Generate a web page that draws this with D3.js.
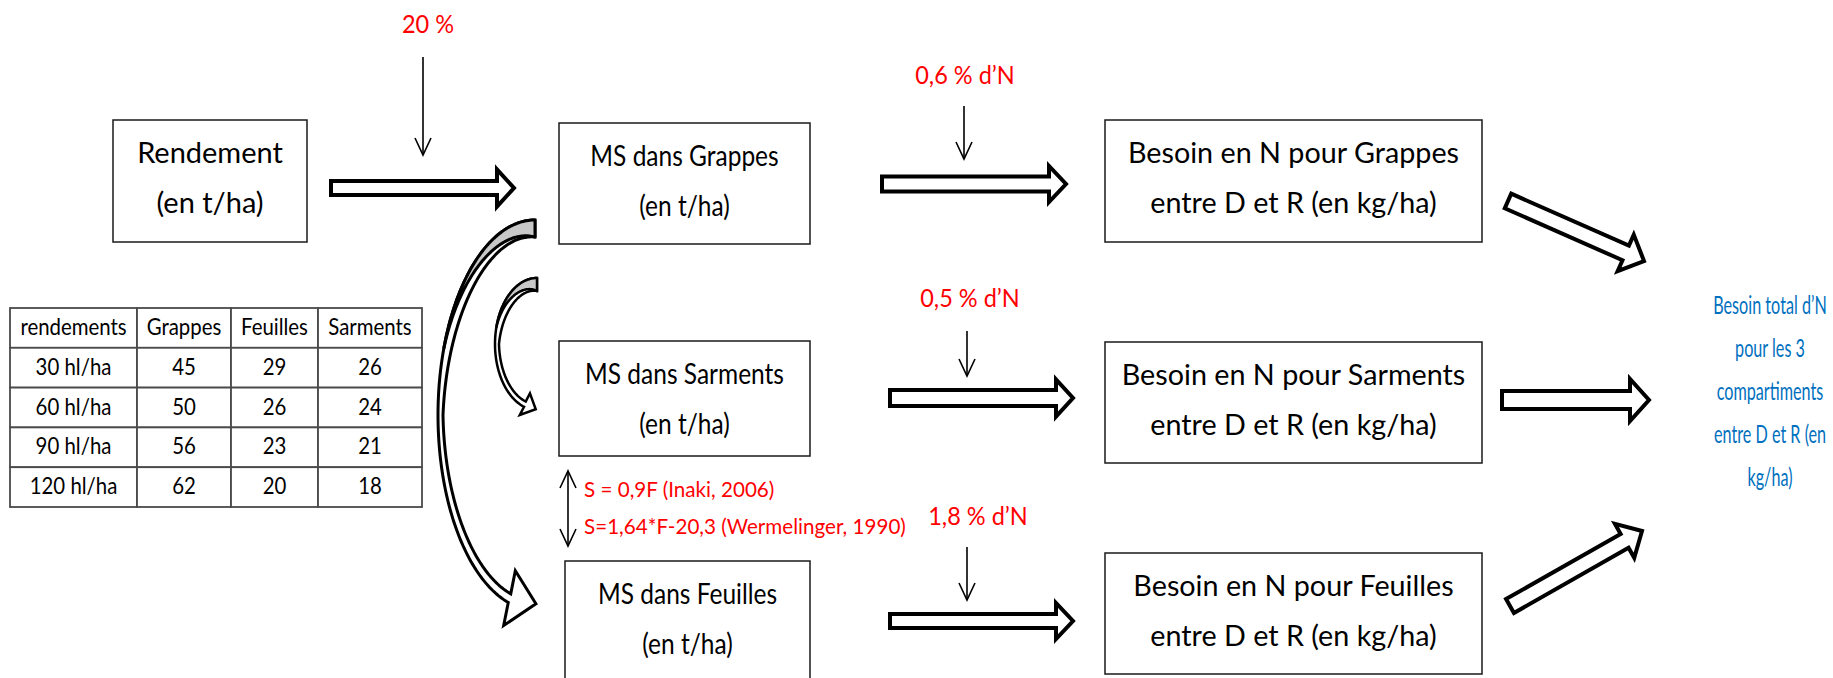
<!DOCTYPE html>
<html>
<head>
<meta charset="utf-8">
<script src="https://cdn.jsdelivr.net/npm/d3@7"></script>
<style>
  html, body { margin: 0; padding: 0; background: #fff; }
  svg { display: block; }
</style>
</head>
<body>
<div id="chart"></div>
<script>
// ---------- DATA ----------
const tableHeaders = ["rendements", "Grappes", "Feuilles", "Sarments"];
const rendements = ["30 hl/ha", "60 hl/ha", "90 hl/ha", "120 hl/ha"];
const grappes = [45, 50, 56, 62];
const feuilles = [29, 26, 23, 20];
const sarments = [26, 24, 21, 18];

const sourceLabel = ["Rendement", "(en t/ha)"];
const msLabels = ["MS dans Grappes", "MS dans Sarments", "MS dans Feuilles"];
const unitLabel = "(en t/ha)";
const besoinLabels = ["Besoin en N pour Grappes", "Besoin en N pour Sarments", "Besoin en N pour Feuilles"];
const besoinUnit = "entre D et R (en kg/ha)";
const grappesShare = "20 %";
const nRates = ["0,6 % d’N", "0,5 % d’N", "1,8 % d’N"];
const formulas = ["S = 0,9F (Inaki, 2006)", "S=1,64*F-20,3 (Wermelinger, 1990)"];
const totalLines = ["Besoin total d’N", "pour les 3", "compartiments", "entre D et R (en", "kg/ha)"];

// ---------- SETUP ----------
const W = 1833, H = 678;
const FONT = "Lato, 'Open Sans', 'Noto Sans', sans-serif";
const RED = "#ff0000", BLUE = "#0070c0";

// text styles: font size + horizontal / vertical glyph scaling
const ST = {
  rend:    { size: 25, sx: 1.16, sy: 1.17 },
  ms:      { size: 25, sx: 0.98, sy: 1.17 },
  besoin:  { size: 25, sx: 1.15, sy: 1.12 },
  red:     { size: 21, sx: 1.12, sy: 1.2, fill: RED },
  formula: { size: 18.5, sx: 1.115, sy: 1.13, fill: RED, anchor: "start" },
  table:   { size: 17, sx: 1.2, sy: 1.31 },
  blue:    { size: 18, sx: 0.9, sy: 1.36, fill: BLUE }
};

const svg = d3.select("#chart").append("svg")
  .attr("width", W).attr("height", H)
  .attr("viewBox", `0 0 ${W} ${H}`);
svg.append("rect").attr("width", W).attr("height", H).attr("fill", "#fff");

function txt(g, x, y, s, o) {
  return g.append("text")
    .attr("transform", `translate(${x},${y}) scale(${o.sx || 1},${o.sy || 1})`)
    .attr("text-anchor", o.anchor || "middle")
    .attr("font-family", FONT)
    .attr("font-size", o.size)
    .attr("fill", o.fill || "#000")
    .text(s);
}

function box(g, x0, y0, x1, y1, lines, style) {
  g.append("rect").attr("x", x0).attr("y", y0).attr("width", x1 - x0).attr("height", y1 - y0)
    .attr("fill", "#fff").attr("stroke", "#1a1a1a").attr("stroke-width", 1.5);
  const cx = (x0 + x1) / 2;
  lines.forEach((l, i) => txt(g, cx, y0 + 43 + 50 * i, l, style));
}

function blockArrow(g, x0, y0, x1, y1, sh, hh, hl) {
  const dx = x1 - x0, dy = y1 - y0, L = Math.hypot(dx, dy);
  const ux = dx / L, uy = dy / L, nx = -uy, ny = ux;
  const local = [[0, -sh], [L - hl, -sh], [L - hl, -hh], [L, 0], [L - hl, hh], [L - hl, sh], [0, sh]];
  const pts = local.map(([a, b]) => [x0 + ux * a + nx * b, y0 + uy * a + ny * b]);
  g.append("path").attr("d", d3.line()(pts) + "Z")
    .attr("fill", "#fff").attr("stroke", "#000").attr("stroke-width", 4)
    .attr("stroke-linejoin", "miter");
}

function thinArrow(g, x, y0, y1, both) {
  g.append("line").attr("x1", x).attr("x2", x).attr("y1", y0).attr("y2", y1)
    .attr("stroke", "#000").attr("stroke-width", 1.6);
  const head = (yt, dir) => g.append("path")
    .attr("d", d3.line()([[x - 8, yt - dir * 17], [x, yt], [x + 8, yt - dir * 17]]))
    .attr("fill", "none").attr("stroke", "#000").attr("stroke-width", 1.6);
  head(y1, 1);
  if (both) head(y0, -1);
}

function curvedArrow(g, p) {
  const rad = d => d * Math.PI / 180;
  const width = th => th >= 180
    ? p.wMid + (p.wTop - p.wMid) * (th - 180) / 90
    : p.wEnd + (p.wMid - p.wEnd) * (th - p.thEnd) / (180 - p.thEnd);
  const outer = th => [p.cx + p.rx * Math.cos(rad(th)), p.cy + p.ry * Math.sin(rad(th))];
  const innerW = (th, w) => [p.cx + (p.rx - w) * Math.cos(rad(th)), p.cy + (p.ry - w) * Math.sin(rad(th))];
  const thetas = d3.range(270, p.thEnd - 0.001, -1);
  if (thetas[thetas.length - 1] !== p.thEnd) thetas.push(p.thEnd);
  const outerPts = thetas.map(outer);
  const innerPts = thetas.map(th => innerW(th, width(th)));
  const oE = outerPts[outerPts.length - 1], iE = innerPts[innerPts.length - 1];
  const m = [(oE[0] + iE[0]) / 2, (oE[1] + iE[1]) / 2];
  const hd = [Math.cos(rad(p.headDir)), Math.sin(rad(p.headDir))];
  let perp = [-hd[1], hd[0]];
  if ((oE[0] - iE[0]) * perp[0] + (oE[1] - iE[1]) * perp[1] < 0) perp = [-perp[0], -perp[1]];
  const barbOut = [m[0] + perp[0] * p.headHalf, m[1] + perp[1] * p.headHalf];
  const barbIn = [m[0] - perp[0] * p.headHalf, m[1] - perp[1] * p.headHalf];
  const tip = [m[0] + hd[0] * p.headLen, m[1] + hd[1] * p.headLen];
  const pts = outerPts.concat([barbOut, tip, barbIn]).concat(innerPts.slice().reverse());
  g.append("path").attr("d", d3.line()(pts) + "Z")
    .attr("fill", "#fff").attr("stroke", "#000").attr("stroke-width", p.sw)
    .attr("stroke-linejoin", "miter");
  const gThetas = d3.range(270, p.grayEnd - 0.001, -1);
  const gOuter = gThetas.map(outer);
  const gInner = gThetas.map(th => innerW(th, width(th) * (th - p.grayEnd) / (270 - p.grayEnd)));
  g.append("path").attr("d", d3.line()(gOuter.concat(gInner.slice().reverse())) + "Z")
    .attr("fill", "#c8c8c8").attr("stroke", "#000").attr("stroke-width", p.sw)
    .attr("stroke-linejoin", "round");
}

const g = svg.append("g");

// ---------- TABLE ----------
const colEdges = [10, 137, 231, 318, 422];
const rowScale = d3.scaleBand().domain(["header"].concat(rendements)).range([308, 507]).padding(0);
const tableG = g.append("g");
const tableRows = [tableHeaders].concat(rendements.map((r, i) => [r, grappes[i], feuilles[i], sarments[i]]));
tableRows.forEach((row, ri) => {
  const y0 = rowScale(rowScale.domain()[ri]);
  row.forEach((v, ci) => {
    tableG.append("rect").attr("x", colEdges[ci]).attr("y", y0)
      .attr("width", colEdges[ci + 1] - colEdges[ci]).attr("height", rowScale.bandwidth())
      .attr("fill", "#fff").attr("stroke", "#4a4a4a").attr("stroke-width", 1.8);
  });
});
tableRows.forEach((row, ri) => {
  const y0 = rowScale(rowScale.domain()[ri]);
  row.forEach((v, ci) => {
    txt(tableG, (colEdges[ci] + colEdges[ci + 1]) / 2, y0 + 27, String(v), ST.table);
  });
});

// ---------- BOXES ----------
box(g, 113, 120, 307, 242, sourceLabel, ST.rend);
const msBoxes = [[559, 123, 810, 244], [559, 341, 810, 456], [565, 561, 810, 700]];
msLabels.forEach((l, i) => {
  const [x0, y0, x1, y1] = msBoxes[i];
  box(g, x0, y0, x1, y1, [l, unitLabel], ST.ms);
});
const besoinBoxes = [[1105, 120, 1482, 242], [1105, 342, 1482, 463], [1105, 553, 1482, 674]];
besoinLabels.forEach((l, i) => {
  const [x0, y0, x1, y1] = besoinBoxes[i];
  box(g, x0, y0, x1, y1, [l, besoinUnit], ST.besoin);
});

// ---------- BLOCK ARROWS ----------
blockArrow(g, 331, 188, 514, 188, 7, 18.5, 17);
blockArrow(g, 882, 184, 1066, 184, 7.5, 18, 17);
blockArrow(g, 890, 398, 1073, 398, 8, 18.5, 17);
blockArrow(g, 890, 621, 1073, 621, 7, 18, 17);
blockArrow(g, 1502, 400, 1649, 400, 9, 21, 19);
blockArrow(g, 1508, 201, 1644, 261, 8, 20, 20);
blockArrow(g, 1510, 606, 1642, 531, 8, 19.5, 20);

// ---------- CURVED ARROWS ----------
curvedArrow(g, { cx: 535, cy: 415, rx: 97, ry: 195, wTop: 17, wMid: 5, wEnd: 9, thEnd: 106,
  grayEnd: 200, headHalf: 28, headLen: 27, headDir: 12, sw: 3 });
curvedArrow(g, { cx: 537, cy: 344, rx: 42, ry: 66, wTop: 13, wMid: 4, wEnd: 5.5, thEnd: 108,
  grayEnd: 195, headHalf: 12, headLen: 12, headDir: 25, sw: 2.5 });

// ---------- THIN ARROWS & RED LABELS ----------
thinArrow(g, 423, 57, 155);
txt(g, 428, 33, grappesShare, ST.red);

const rateX = [964, 967, 967];
const rateY = [[106, 159], [331, 376], [547, 600]];
const rateLabelPos = [[965, 84], [970, 307], [978, 525]];
nRates.forEach((r, i) => {
  thinArrow(g, rateX[i], rateY[i][0], rateY[i][1]);
  txt(g, rateLabelPos[i][0], rateLabelPos[i][1], r, ST.red);
});

thinArrow(g, 568, 471, 546, true);
formulas.forEach((f, i) => txt(g, 584, [497, 534][i], f, ST.formula));

// ---------- TOTAL (blue) ----------
totalLines.forEach((l, i) => txt(g, 1770, 314 + 43 * i, l, ST.blue));
</script>
</body>
</html>
